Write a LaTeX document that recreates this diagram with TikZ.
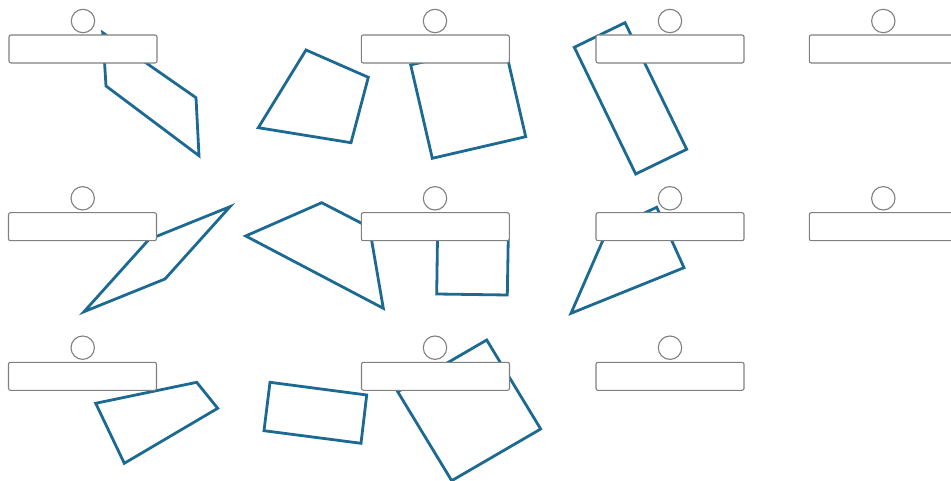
\documentclass[tikz,border=0pt]{standalone}
\definecolor{shapeblue}{RGB}{28,106,146}
\definecolor{boxgray}{RGB}{128,128,128}
\begin{document}
\begin{tikzpicture}[x=1pt,y=-1pt,
  fig/.style={draw=shapeblue,line width=2.8pt,line join=miter},
  ansbox/.style={draw=boxgray,fill=white,line width=1.1pt,rounded corners=2pt,minimum width=148pt,minimum height=28pt,inner sep=0pt},
  mark/.style={}, 
  dot/.style={draw=boxgray,fill=white,line width=1.1pt,circle,minimum size=23.4pt,inner sep=0pt}]
\clip (0,0) rectangle (951,481);
\fill[white] (0,0) rectangle (951,481);
% shapes
\draw[fig] (102.7,32.7) -- (106,86) -- (199,155.7) -- (196,97.7) -- cycle;
\draw[fig] (306,50) -- (368.3,77.3) -- (351,142.7) -- (258.3,127.7) -- cycle;
\draw[fig] (410.7,64.9) -- (504.1,43.3) -- (525.7,136.7) -- (432.3,158.3) -- cycle;
\draw[fig] (574.3,47.3) -- (625,22.7) -- (686.7,149.3) -- (635.7,174) -- cycle;
\draw[fig] (230,206.7) -- (165,279) -- (84,311.7) -- (149,239.4) -- cycle;
\draw[fig] (245.7,236) -- (321.7,202.7) -- (369.4,227.3) -- (383.3,308.3) -- cycle;
\draw[fig] (437.7,223) -- (508.5,224) -- (507.3,295) -- (436.7,294) -- cycle;
\draw[fig] (656.7,207.3) -- (684,267.7) -- (571,313.3) -- (607.2,230.4) -- cycle;
\draw[fig] (95.7,403.3) -- (196.7,382.3) -- (217.7,408.3) -- (124.3,463.3) -- cycle;
\draw[fig] (270,382.3) -- (366.7,395) -- (361,443.3) -- (264,430.7) -- cycle;
\draw[fig] (397.7,391.7) -- (486.7,340) -- (540.7,429) -- (451.7,480.7) -- cycle;
% answer boxes
\node[ansbox] (b11) at (83,49) {};
\node[ansbox] (b12) at (435.3,49) {};
\node[ansbox] (b13) at (670,49) {};
\node[ansbox] (b14) at (883.3,49) {};
\node[ansbox] (b21) at (82.5,226.7) {};
\node[ansbox] (b22) at (435.3,226.7) {};
\node[ansbox] (b23) at (670,226.7) {};
\node[ansbox] (b24) at (883.3,226.7) {};
\node[ansbox] (b31) at (82.5,376.3) {};
\node[ansbox] (b32) at (435.5,376.3) {};
\node[ansbox] (b33) at (670,376.3) {};
% circles
\node[dot] (c11) at (83,21) {};
\node[dot] (c12) at (435,21) {};
\node[dot] (c13) at (670,21) {};
\node[dot] (c14) at (883.3,21) {};
\node[dot] (c21) at (82.7,198.3) {};
\node[dot] (c22) at (435,198.3) {};
\node[dot] (c23) at (670,198.3) {};
\node[dot] (c24) at (883.3,198.3) {};
\node[dot] (c31) at (82.7,347.7) {};
\node[dot] (c32) at (435,347.7) {};
\node[dot] (c33) at (670,347.7) {};
\end{tikzpicture}
\end{document}
